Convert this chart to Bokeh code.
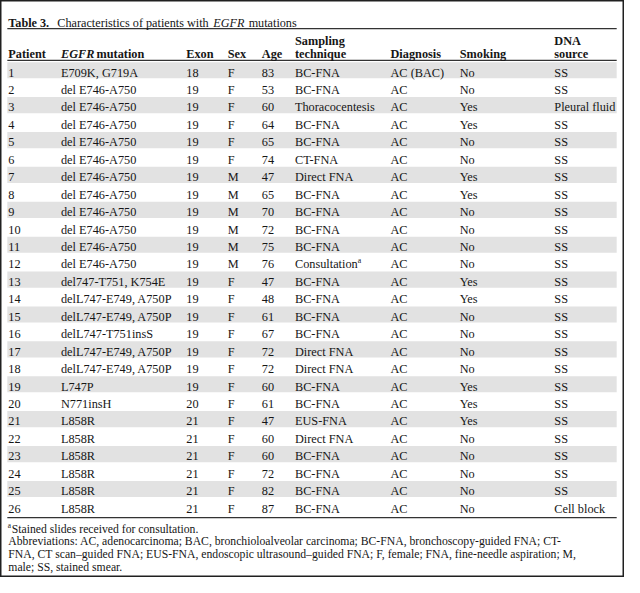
from bokeh.plotting import figure
from bokeh.models import Range1d, ColumnDataSource
from bokeh.embed import file_html
from bokeh.resources import INLINE
from bokeh.core.properties import value

# ---------------- data ----------------
patients = [str(i) for i in range(1, 27)]
mutations = ["E709K, G719A"] + ["del E746-A750"] * 11 + [
    "del747-T751, K754E", "delL747-E749, A750P", "delL747-E749, A750P",
    "delL747-T751insS", "delL747-E749, A750P", "delL747-E749, A750P",
    "L747P", "N771insH"] + ["L858R"] * 6
exons = ["18"] + ["19"] * 18 + ["20"] + ["21"] * 6
sexes = ["F"] * 6 + ["M"] * 6 + ["F"] * 14
ages = [83, 53, 60, 64, 65, 74, 47, 65, 70, 72, 75, 76, 47,
        48, 61, 67, 72, 72, 60, 61, 47, 60, 60, 72, 82, 87]
sampling = ["BC-FNA", "BC-FNA", "Thoracocentesis", "BC-FNA", "BC-FNA", "CT-FNA",
            "Direct FNA", "BC-FNA", "BC-FNA", "BC-FNA", "BC-FNA", "Consultation",
            "BC-FNA", "BC-FNA", "BC-FNA", "BC-FNA", "Direct FNA", "Direct FNA",
            "BC-FNA", "BC-FNA", "EUS-FNA", "Direct FNA", "BC-FNA", "BC-FNA",
            "BC-FNA", "BC-FNA"]
diagnosis = ["AC (BAC)"] + ["AC"] * 25
smoking = ["No", "No", "Yes", "Yes", "No", "No", "Yes", "Yes", "No", "No", "No", "No",
           "Yes", "Yes", "No", "No", "No", "No", "Yes", "Yes", "Yes", "No", "No", "No",
           "No", "No"]
dna_source = ["SS", "SS", "Pleural fluid"] + ["SS"] * 22 + ["Cell block"]
footnote_marked_row = 12  # patient whose sampling technique has footnote "a"

title_parts = [("Table 3.", "bold"), ("Characteristics of patients with", "normal"),
               ("EGFR", "italic"), ("mutations", "normal")]
footnote_text = "Stained slides received for consultation."
abbrev_lines = [
    "Abbreviations: AC, adenocarcinoma; BAC, bronchioloalveolar carcinoma; BC-FNA, bronchoscopy-guided FNA; CT-",
    "FNA, CT scan\u2013guided FNA; EUS-FNA, endoscopic ultrasound\u2013guided FNA; F, female; FNA, fine-needle aspiration; M,",
    "male; SS, stained smear.",
]

# ---------------- layout ----------------
W, H = 624, 577
RW, RH = 640, 593
S = W / RW
FONT = value("Liberation Serif")
TXT = "#161616"


def fs(px):
    return value(f"{px * S:.2f}px")


p = figure(width=W, height=H, x_range=Range1d(0, RW), y_range=Range1d(RH, 0),
           output_backend="svg", toolbar_location=None, min_border=0,
           x_axis_location=None, y_axis_location=None)
p.grid.visible = False
p.outline_line_color = "#202020"
p.outline_line_width = 2
p.background_fill_color = "white"
p.border_fill_color = "white"

ROW0 = 74.0
ROWH = 17.93
LEFT, RIGHT = 7, 632
n = len(patients)
baselines = [ROW0 + i * ROWH for i in range(n)]

# shaded rows
shaded = [b for i, b in enumerate(baselines) if i % 2 == 0]
p.quad(left=LEFT, right=RIGHT, top=[b - 10.6 for b in shaded],
       bottom=[b + 6.0 for b in shaded], fill_color="#e2e2e2", line_color=None)

# rules
for y in (29.0, 61.5, 531.5):
    p.segment(x0=LEFT, x1=RIGHT, y0=y, y1=y, line_color="#333333", line_width=1.3)

# columns
col_x = [8, 62, 190.5, 233, 268, 302, 400, 471, 568]
columns = [patients, mutations, exons, sexes, [str(a) for a in ages],
           sampling, diagnosis, smoking, dna_source]
for x, vals in zip(col_x, columns):
    src = ColumnDataSource(dict(x=[x] * n, y=baselines, t=vals))
    p.text(x="x", y="y", text="t", source=src, text_font=FONT,
           text_font_size=fs(12.6), text_baseline="alphabetic",
           text_align="left", text_color=TXT)

# superscript a after Consultation
ri = footnote_marked_row - 1
p.text(x=[366.5], y=[baselines[ri] - 4.5], text=["a"], text_font=FONT,
       text_font_size=fs(8), text_baseline="alphabetic", text_color=TXT)

# header
HB1, HB2 = 41.5, 54.5
hdr_single = [(8, "Patient"), (98.5, "mutation"), (190.5, "Exon"), (233, "Sex"),
              (268, "Age"), (400, "Diagnosis"), (471, "Smoking")]
p.text(x=[h[0] for h in hdr_single], y=[HB2] * len(hdr_single),
       text=[h[1] for h in hdr_single], text_font=FONT, text_font_size=fs(12.6),
       text_font_style="bold", text_baseline="alphabetic", text_color=TXT)
p.text(x=[62], y=[HB2], text=["EGFR"], text_font=FONT, text_font_size=fs(12.6),
       text_font_style="bold italic", text_baseline="alphabetic", text_color=TXT)
p.text(x=[302, 568, 302, 568], y=[HB1, HB1, HB2, HB2],
       text=["Sampling", "DNA", "technique", "source"], text_font=FONT,
       text_font_size=fs(12.6), text_font_style="bold",
       text_baseline="alphabetic", text_color=TXT)

# title
title_x = [8, 58.3, 218.3, 254.5]
for x, (t, st) in zip(title_x, title_parts):
    p.text(x=[x], y=[23], text=[t], text_font=FONT, text_font_size=fs(12.5),
           text_font_style=st, text_baseline="alphabetic", text_color=TXT)

# footnotes
p.text(x=[7.5], y=[539.5], text=["a"], text_font=FONT, text_font_size=fs(7.5),
       text_baseline="alphabetic", text_color=TXT)
p.text(x=[11.5], y=[543.5], text=[footnote_text], text_font=FONT,
       text_font_size=fs(12), text_baseline="alphabetic", text_color=TXT)
p.text(x=[8] * 3, y=[556.5, 569.5, 582.5], text=abbrev_lines, text_font=FONT,
       text_font_size=fs(12), text_baseline="alphabetic", text_color=TXT)

open("out.html", "w").write(file_html(p, INLINE))
